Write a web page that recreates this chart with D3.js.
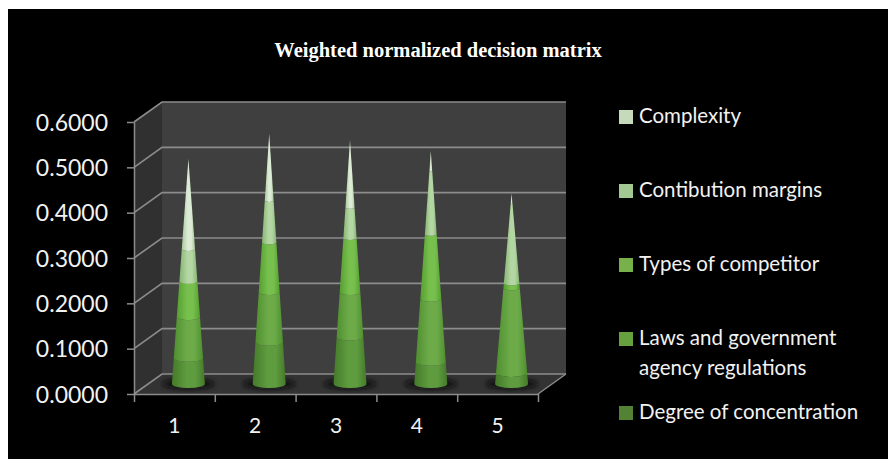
<!DOCTYPE html>
<html>
<head>
<meta charset="utf-8">
<script src="https://cdn.jsdelivr.net/npm/d3@7"></script>
<style>
  html, body { margin: 0; padding: 0; background: #fff; overflow: hidden; }
  svg { display: block; }
  .axis text { font-family: Lato, sans-serif; fill: #f2f2f2; }
</style>
</head>
<body>
<script>
// Chart data (height of each band of the cone)
const categories = ['1', '2', '3', '4', '5'];
const seriesNames = ['Degree of concentration', 'Laws and government agency regulations',
  'Types of competitor', 'Contibution margins', 'Complexity'];
const degree = [0.057, 0.092, 0.103, 0.048, 0.024];
const laws = [0.090, 0.110, 0.099, 0.139, 0.187];
const types = [0.079, 0.110, 0.119, 0.143, 0.011];
const margins = [0.071, 0.092, 0.068, 0.140, 0.176];
const complexity = [0.200, 0.148, 0.149, 0.044, 0.022];
const yTicks = [0, 0.1, 0.2, 0.3, 0.4, 0.5, 0.6];
const chartTitle = 'Weighted normalized decision matrix';

// one colour set per series: edge, centre, legend swatch
const colors = [
  { edge: '#447a29', mid: '#5f9c3f', key: '#548235' },
  { edge: '#4f8f2e', mid: '#6dab4a', key: '#66a03f' },
  { edge: '#559f2f', mid: '#78c04e', key: '#78b04a' },
  { edge: '#86b573', mid: '#b4d6a3', key: '#a4c893' },
  { edge: '#a9c99b', mid: '#dcebd5', key: '#c4dabb' }
];

const svg = d3.select('body').append('svg')
  .attr('width', 888)
  .attr('height', 459);

svg.append('rect')
  .attr('x', 8).attr('y', 9)
  .attr('width', 880).attr('height', 450)
  .attr('fill', '#000');

svg.append('text')
  .attr('x', 438).attr('y', 57)
  .attr('text-anchor', 'middle')
  .style('font-family', '"Liberation Serif", serif')
  .style('font-weight', 'bold')
  .style('font-size', '20.5px')
  .attr('fill', '#fff')
  .text(chartTitle);

// scales sit on the front plane, depth shifts things back and up
const depth = { x: 28, y: -20 };
const x = d3.scaleBand().domain(categories).range([134, 538]);
const xEdges = d3.scaleLinear().domain([0, categories.length]).range([134, 538]);
const y = d3.scaleLinear().domain([0, 0.6]).range([394, 122]);

drawWalls();
drawCones();
drawAxes();
drawLegend();

function drawWalls() {
  const yTop = y(0.6), yBase = y(0);
  const left = x.range()[0], right = x.range()[1];
  const pts = (a) => a.map((p) => p.join(',')).join(' ');

  // back wall, side wall, floor
  svg.append('polygon')
    .attr('points', pts([[left + depth.x, yTop + depth.y], [right + depth.x, yTop + depth.y],
      [right + depth.x, yBase + depth.y], [left + depth.x, yBase + depth.y]]))
    .attr('fill', '#3f3f3f');
  svg.append('polygon')
    .attr('points', pts([[left, yTop], [left + depth.x, yTop + depth.y],
      [left + depth.x, yBase + depth.y], [left, yBase]]))
    .attr('fill', '#303030');
  svg.append('polygon')
    .attr('points', pts([[left, yBase], [left + depth.x, yBase + depth.y],
      [right + depth.x, yBase + depth.y], [right, yBase]]))
    .attr('fill', '#333');

  // gridlines run along the side wall and then the back wall
  svg.selectAll('.grid')
    .data(yTicks)
    .enter()
    .append('polyline')
    .attr('class', 'grid')
    .attr('points', (d) => pts([[left, y(d)], [left + depth.x, y(d) + depth.y],
      [right + depth.x, y(d) + depth.y]]))
    .attr('fill', 'none')
    .attr('stroke', '#8c8c8c')
    .attr('stroke-width', 1.6);

  svg.append('line')
    .attr('x1', right).attr('y1', yBase)
    .attr('x2', right + depth.x).attr('y2', yBase + depth.y)
    .attr('stroke', '#8c8c8c')
    .attr('stroke-width', 1.4);
}

function drawCones() {
  const defs = svg.append('defs');
  const soft = defs.append('filter').attr('id', 'soft');
  soft.append('feGaussianBlur').attr('stdDeviation', 0.5);
  const shadowBlur = defs.append('filter').attr('id', 'shadowBlur')
    .attr('x', '-30%').attr('width', '160%').attr('y', '-80%').attr('height', '260%');
  shadowBlur.append('feGaussianBlur').attr('stdDeviation', 2.5);

  colors.forEach((c, i) => {
    const grad = defs.append('linearGradient').attr('id', 'band' + i);
    grad.append('stop').attr('offset', '0%').attr('stop-color', c.edge);
    grad.append('stop').attr('offset', '45%').attr('stop-color', c.mid);
    grad.append('stop').attr('offset', '70%').attr('stop-color', c.mid);
    grad.append('stop').attr('offset', '100%').attr('stop-color', c.edge);
  });

  const rows = categories.map((c, i) => ({
    cat: c, s0: degree[i], s1: laws[i], s2: types[i], s3: margins[i], s4: complexity[i]
  }));
  const stacked = d3.stack().keys(['s0', 's1', 's2', 's3', 's4'])(rows);

  const baseRadius = 16.5;
  const baseTilt = 4;
  const cx = (cat) => x(cat) + x.bandwidth() / 2 + depth.x / 2;
  const cy = (v) => y(v) + depth.y / 2;

  const plot = svg.append('g');

  // shadow on the floor
  plot.selectAll('.shadow')
    .data(categories)
    .enter()
    .append('ellipse')
    .attr('class', 'shadow')
    .attr('cx', (d) => cx(d))
    .attr('cy', cy(0))
    .attr('rx', 26)
    .attr('ry', 5)
    .attr('fill', '#111')
    .attr('filter', 'url(#shadowBlur)');

  const cones = plot.append('g').attr('filter', 'url(#soft)');

  stacked.forEach((layer, s) => {
    cones.selectAll('.band' + s)
      .data(layer)
      .enter()
      .append('path')
      .attr('class', 'band' + s)
      .attr('fill', 'url(#band' + s + ')')
      .attr('d', (d) => {
        const total = d[d.length - 1 > 1 ? 1 : 1] + 0;
        const top = d3.sum(['s0', 's1', 's2', 's3', 's4'], (k) => d.data[k]);
        const radius = d3.scaleLinear().domain([0, top]).range([baseRadius, 0]);
        const r0 = radius(d[0]), r1 = radius(d[1]);
        const t0 = baseTilt * r0 / baseRadius, t1 = baseTilt * r1 / baseRadius;
        const c = cx(d.data.cat);
        return `M${c - r0},${cy(d[0])}`
          + `A${r0},${t0} 0 0 0 ${c + r0},${cy(d[0])}`
          + `L${c + r1},${cy(d[1])}`
          + (r1 > 0.01 ? `A${r1},${t1} 0 0 1 ${c - r1},${cy(d[1])}` : '')
          + 'Z';
      });
  });
}

function drawAxes() {
  const yAxis = d3.axisLeft(y)
    .tickValues(yTicks)
    .tickFormat(d3.format('.4f'))
    .tickSize(7)
    .tickSizeOuter(0)
    .tickPadding(19);
  const yG = svg.append('g')
    .attr('class', 'axis')
    .attr('transform', 'translate(134,0)')
    .call(yAxis);
  yG.selectAll('text').style('font-size', '23px').attr('dy', '0.36em');
  yG.selectAll('line, path').attr('stroke', '#8c8c8c').attr('stroke-width', 1.5);

  // tick marks sit between the categories, labels on the categories
  const tickAxis = d3.axisBottom(xEdges)
    .ticks(categories.length)
    .tickFormat('')
    .tickSize(8)
    .tickSizeOuter(0);
  const tickG = svg.append('g')
    .attr('transform', 'translate(0,394)')
    .call(tickAxis);
  tickG.selectAll('line, path').attr('stroke', '#8c8c8c').attr('stroke-width', 1.5);

  const labelAxis = d3.axisBottom(x).tickSize(0).tickPadding(24);
  const labelG = svg.append('g')
    .attr('class', 'axis')
    .attr('transform', 'translate(0,394)')
    .call(labelAxis);
  labelG.select('.domain').remove();
  labelG.selectAll('text').style('font-size', '21px');
}

function drawLegend() {
  // legend reads top to bottom in reverse series order
  const keys = seriesNames.map((name, i) => ({ name: name, color: colors[i].key })).reverse();
  const legendY = d3.scalePoint()
    .domain(keys.map((k) => k.name))
    .range([110, 406]);

  const item = svg.selectAll('.legend')
    .data(keys)
    .enter()
    .append('g')
    .attr('class', 'legend')
    .attr('transform', (d) => `translate(619,${legendY(d.name)})`);

  item.append('rect')
    .attr('width', 14)
    .attr('height', 14)
    .attr('fill', (d) => d.color);

  const label = item.append('text')
    .attr('x', 20)
    .attr('y', 13)
    .style('font-family', 'Lato, sans-serif')
    .style('font-size', '20.5px')
    .attr('fill', '#f2f2f2');

  label.each(function (d) {
    // the long label wraps after its third word
    const words = d.name.split(' ');
    const lines = words.length > 4
      ? [words.slice(0, 3).join(' '), words.slice(3).join(' ')]
      : [d.name];
    d3.select(this).selectAll('tspan')
      .data(lines)
      .enter()
      .append('tspan')
      .attr('x', 20)
      .attr('dy', (l, i) => i ? 30 : 0)
      .text((l) => l);
  });
}
</script>
</body>
</html>
